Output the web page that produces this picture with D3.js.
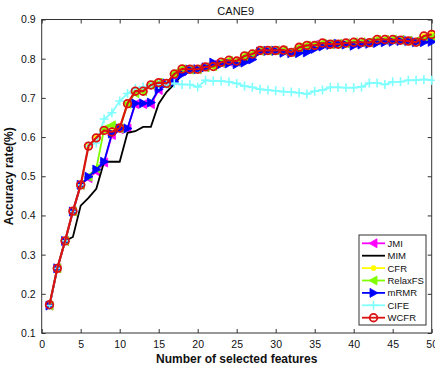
<!DOCTYPE html>
<html>
<head>
<meta charset="utf-8">
<script src="https://cdn.jsdelivr.net/npm/d3@7"></script>
<style>
  body { margin: 0; background: #fff; }
  svg { font-family: "Liberation Sans", Arial, sans-serif; }
</style>
</head>
<body>
<div id="chart"></div>
<script>
// data (accuracy vs number of selected features)
var nFeatures = d3.range(1, 51);
var xTicks = [0, 5, 10, 15, 20, 25, 30, 35, 40, 45, 50];
var yTicks = [0.1, 0.2, 0.3, 0.4, 0.5, 0.6, 0.7, 0.8, 0.9];

var jmi = [0.17,0.265,0.335,0.41,0.478,0.495,0.512,0.535,0.605,0.62,0.622,0.684,0.684,0.684,0.72,0.735,0.745,0.768,0.773,0.773,
  0.778,0.785,0.789,0.792,0.792,0.800,0.808,0.820,0.821,0.821,0.820,0.817,0.826,0.832,0.836,0.838,0.837,0.838,0.839,0.840,
  0.841,0.841,0.846,0.847,0.848,0.848,0.846,0.845,0.850,0.852];
var mim = [0.17,0.265,0.335,0.345,0.425,0.445,0.468,0.537,0.537,0.537,0.611,0.615,0.626,0.626,0.685,0.715,0.735,0.76,0.772,0.773,
  0.778,0.788,0.788,0.79,0.788,0.795,0.80,0.818,0.82,0.82,0.816,0.815,0.818,0.82,0.828,0.832,0.835,0.838,0.837,0.836,
  0.838,0.839,0.842,0.843,0.844,0.846,0.846,0.844,0.845,0.846];
var cfr = [0.172,0.265,0.335,0.411,0.478,0.577,0.598,0.617,0.613,0.623,0.685,0.717,0.717,0.733,0.739,0.737,0.761,0.774,0.773,0.773,
  0.779,0.780,0.791,0.796,0.794,0.807,0.812,0.821,0.821,0.821,0.822,0.816,0.829,0.834,0.834,0.840,0.837,0.837,0.840,0.842,
  0.842,0.841,0.849,0.849,0.849,0.847,0.845,0.842,0.858,0.862];
var relaxfs = [0.17,0.265,0.335,0.41,0.478,0.499,0.52,0.62,0.63,0.622,0.685,0.712,0.717,0.733,0.739,0.737,0.762,0.773,0.772,0.773,
  0.778,0.781,0.790,0.795,0.793,0.806,0.812,0.820,0.820,0.821,0.821,0.817,0.828,0.833,0.834,0.839,0.837,0.838,0.839,0.842,
  0.842,0.842,0.848,0.848,0.849,0.848,0.846,0.845,0.852,0.855];
var mrmr = [0.17,0.265,0.335,0.41,0.478,0.499,0.517,0.537,0.609,0.622,0.622,0.686,0.686,0.688,0.722,0.737,0.741,0.760,0.772,0.773,
  0.778,0.790,0.786,0.788,0.786,0.790,0.798,0.818,0.820,0.820,0.815,0.814,0.814,0.816,0.825,0.831,0.835,0.838,0.836,0.833,
  0.836,0.838,0.840,0.842,0.843,0.845,0.845,0.842,0.842,0.843];
var cife = [0.17,0.265,0.335,0.41,0.478,0.577,0.585,0.646,0.662,0.692,0.711,0.724,0.728,0.732,0.734,0.734,0.737,0.734,0.734,0.728,
  0.745,0.743,0.743,0.741,0.737,0.730,0.727,0.722,0.720,0.718,0.716,0.715,0.713,0.710,0.717,0.720,0.727,0.727,0.726,0.726,
  0.728,0.738,0.738,0.734,0.741,0.741,0.745,0.745,0.747,0.745];
var wcfr = [0.172,0.265,0.335,0.411,0.478,0.577,0.598,0.617,0.613,0.623,0.685,0.717,0.717,0.733,0.739,0.737,0.761,0.774,0.773,0.773,
  0.779,0.780,0.791,0.796,0.794,0.807,0.812,0.821,0.821,0.821,0.822,0.816,0.829,0.834,0.834,0.840,0.837,0.837,0.840,0.842,
  0.842,0.841,0.849,0.849,0.849,0.847,0.845,0.842,0.858,0.862];

var series = [
  {name: "JMI", values: jmi, color: "#ff00ff", marker: "left"},
  {name: "MIM", values: mim, color: "#000000", marker: "none"},
  {name: "CFR", values: cfr, color: "#ffff00", marker: "dot"},
  {name: "RelaxFS", values: relaxfs, color: "#80ff00", marker: "left"},
  {name: "mRMR", values: mrmr, color: "#0000ff", marker: "right"},
  {name: "CIFE", values: cife, color: "#80ffff", marker: "plus"},
  {name: "WCFR", values: wcfr, color: "#dd1111", marker: "circle"}
];

var W = 435, H = 368;
var margin = {top: 19.5, right: 3.3, bottom: 35, left: 41.7},
    width = W - margin.left - margin.right,
    height = H - margin.top - margin.bottom;

var svg = d3.select("#chart")
  .append("svg")
    .attr("width", W)
    .attr("height", H)
  .append("g")
    .attr("transform", "translate(" + margin.left + "," + margin.top + ")");

var x = d3.scaleLinear().domain([0, 50]).range([0, width]);
var y = d3.scaleLinear().domain([0.1, 0.9]).range([height, 0]);

// axes, MATLAB style: inward ticks, box on
function styleAxis(g) {
  g.select(".domain").remove();
  g.selectAll(".tick line").attr("stroke", "#333");
  g.selectAll(".tick text").attr("fill", "#111").style("font-size", "10.5px");
}
svg.append("g")
  .attr("transform", "translate(0," + height + ")")
  .call(d3.axisBottom(x).tickValues(xTicks).tickSizeInner(-4).tickSizeOuter(0).tickPadding(8))
  .call(styleAxis);
svg.append("g")
  .call(d3.axisLeft(y).tickValues(yTicks).tickFormat(d3.format(".1f")).tickSizeInner(-4).tickSizeOuter(0).tickPadding(6))
  .call(styleAxis);
svg.append("g")
  .call(d3.axisTop(x).tickValues(xTicks).tickFormat("").tickSizeInner(-4).tickSizeOuter(0))
  .call(styleAxis);
svg.append("g")
  .attr("transform", "translate(" + width + ",0)")
  .call(d3.axisRight(y).tickValues(yTicks).tickFormat("").tickSizeInner(-4).tickSizeOuter(0))
  .call(styleAxis);

svg.append("rect")
  .attr("width", width)
  .attr("height", height)
  .attr("fill", "none")
  .attr("stroke", "#333")
  .attr("stroke-width", 1);

// marker drawing
function drawMarker(g, type, color, cx, cy) {
  if (type === "left") {
    g.append("path")
      .attr("d", "M" + (cx - 4.5) + "," + cy + "L" + (cx + 3.5) + "," + (cy - 4.5) + "L" + (cx + 3.5) + "," + (cy + 4.5) + "Z")
      .attr("fill", color).attr("stroke", color).attr("stroke-width", 0.8);
  } else if (type === "right") {
    g.append("path")
      .attr("d", "M" + (cx + 4.5) + "," + cy + "L" + (cx - 3.5) + "," + (cy - 4.5) + "L" + (cx - 3.5) + "," + (cy + 4.5) + "Z")
      .attr("fill", color).attr("stroke", color).attr("stroke-width", 0.8);
  } else if (type === "dot") {
    g.append("circle").attr("cx", cx).attr("cy", cy).attr("r", 2.8).attr("fill", color);
  } else if (type === "plus") {
    g.append("path")
      .attr("d", "M" + (cx - 4.5) + "," + cy + "H" + (cx + 4.5) + "M" + cx + "," + (cy - 4.5) + "V" + (cy + 4.5))
      .attr("stroke", color).attr("stroke-width", 1.6).attr("fill", "none");
  } else if (type === "circle") {
    g.append("circle").attr("cx", cx).attr("cy", cy).attr("r", 3.8)
      .attr("fill", "none").attr("stroke", color).attr("stroke-width", 1.8);
  }
}

var line = d3.line()
  .x(function(d) { return x(d.n); })
  .y(function(d) { return y(d.v); });

series.forEach(function(s) {
  var pts = nFeatures.map(function(n, i) { return {n: n, v: s.values[i]}; });
  var g = svg.append("g");
  g.append("path")
    .datum(pts)
    .attr("fill", "none")
    .attr("stroke", s.color)
    .attr("stroke-width", s.name === "WCFR" ? 2.2 : 1.8)
    .attr("d", line);
  pts.forEach(function(p) { drawMarker(g, s.marker, s.color, x(p.n), y(p.v)); });
});

// title and axis labels
svg.append("text")
  .attr("x", width / 2 - 1)
  .attr("y", -5)
  .attr("text-anchor", "middle")
  .style("font-size", "11px")
  .attr("fill", "#111")
  .text("CANE9");

svg.append("text")
  .attr("x", width / 2)
  .attr("y", height + 29.5)
  .attr("text-anchor", "middle")
  .style("font-size", "12px")
  .style("font-weight", "bold")
  .attr("fill", "#111")
  .text("Number of selected features");

svg.append("text")
  .attr("transform", "translate(" + (-29) + "," + (height / 2) + ")rotate(-90)")
  .attr("text-anchor", "middle")
  .style("font-size", "12px")
  .style("font-weight", "bold")
  .attr("fill", "#111")
  .text("Accuracy rate(%)");

// legend
var lgX = 359 - margin.left, lgY = 235 - margin.top, lgW = 67, lgH = 90, rowH = 12.4;
var legend = svg.append("g").attr("transform", "translate(" + lgX + "," + lgY + ")");
legend.append("rect")
  .attr("width", lgW).attr("height", lgH)
  .attr("fill", "#fff").attr("stroke", "#333").attr("stroke-width", 1);
series.forEach(function(s, i) {
  var ly = 8.3 + i * rowH;
  legend.append("line")
    .attr("x1", 3).attr("x2", 26).attr("y1", ly).attr("y2", ly)
    .attr("stroke", s.color).attr("stroke-width", 1.8);
  drawMarker(legend, s.marker, s.color, 14.5, ly);
  legend.append("text")
    .attr("x", 28.5).attr("y", ly + 3.5)
    .style("font-size", "9.5px")
    .attr("fill", "#111")
    .text(s.name);
});
</script>
</body>
</html>
